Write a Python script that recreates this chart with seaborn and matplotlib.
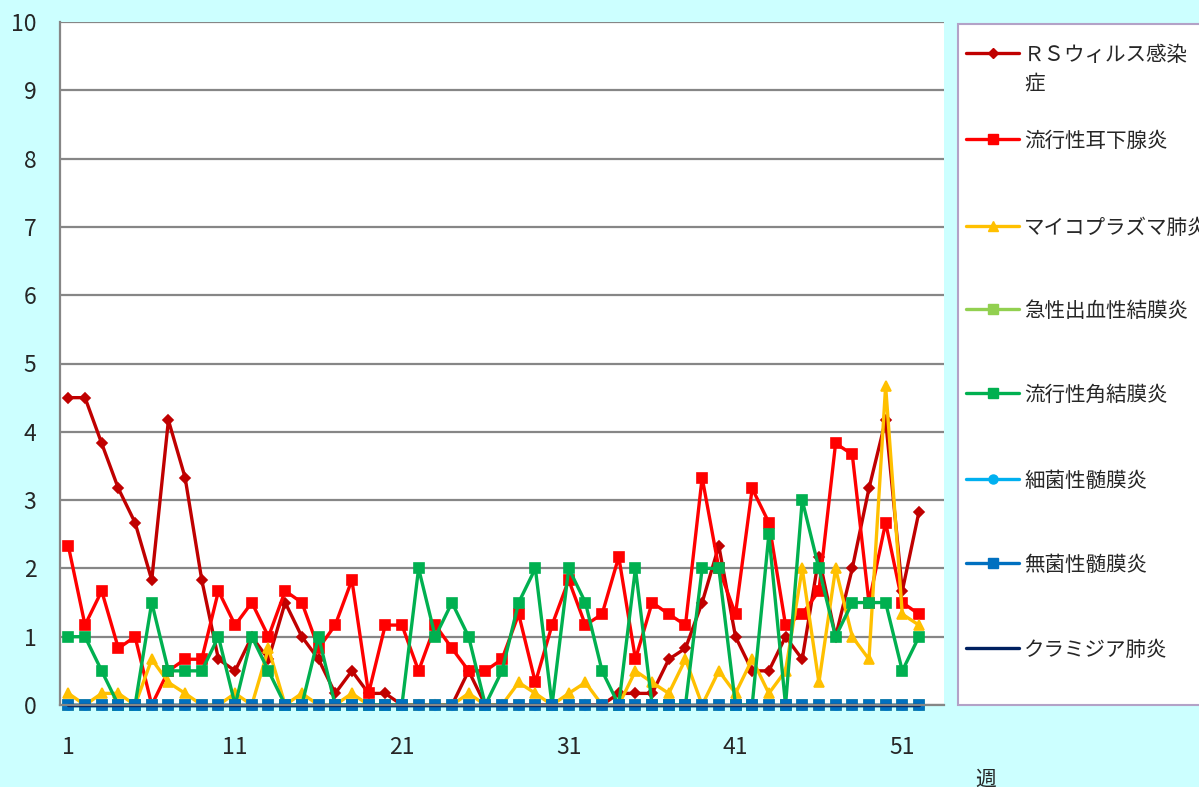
# 2019年 週別定点当たり報告数（RSウィルス感染症ほか）
import numpy as np
import pandas as pd
import seaborn as sns
import matplotlib.pyplot as plt
from matplotlib.lines import Line2D
from matplotlib.patches import Rectangle

sns.set_style('white')
plt.rcParams['font.family'] = ['Noto Sans CJK JP', 'DejaVu Sans']

# 週 1〜52
weeks = np.arange(1, 53)
xtick_labels = [1, 11, 21, 31, 41, 51]

rs_virus = [4.5, 4.5, 3.83, 3.17, 2.67, 1.83, 4.17, 3.33, 1.83, 0.67,
            0.5, 1.0, 0.67, 1.5, 1.0, 0.67, 0.17, 0.5, 0.17, 0.17,
            0, 0, 0, 0, 0.5, 0, 0, 0, 0, 0,
            0, 0, 0, 0.17, 0.17, 0.17, 0.67, 0.83, 1.5, 2.33,
            1.0, 0.5, 0.5, 1.0, 0.67, 2.17, 1.0, 2.0, 3.17, 4.17,
            1.67, 2.83]
mumps = [2.33, 1.17, 1.67, 0.83, 1.0, 0, 0.5, 0.67, 0.67, 1.67,
         1.17, 1.5, 1.0, 1.67, 1.5, 0.83, 1.17, 1.83, 0.17, 1.17,
         1.17, 0.5, 1.17, 0.83, 0.5, 0.5, 0.67, 1.33, 0.33, 1.17,
         1.83, 1.17, 1.33, 2.17, 0.67, 1.5, 1.33, 1.17, 3.33, 2.0,
         1.33, 3.17, 2.67, 1.17, 1.33, 1.67, 3.83, 3.67, 1.5, 2.67,
         1.5, 1.33]
mycoplasma = [0.17, 0, 0.17, 0.17, 0, 0.67, 0.33, 0.17, 0, 0,
              0.17, 0, 0.83, 0, 0.17, 0, 0, 0.17, 0, 0,
              0, 0, 0, 0, 0.17, 0, 0, 0.33, 0.17, 0,
              0.17, 0.33, 0, 0, 0.5, 0.33, 0.17, 0.67, 0, 0.5,
              0.17, 0.67, 0.17, 0.5, 2.0, 0.33, 2.0, 1.0, 0.67, 4.67,
              1.33, 1.17]
hemorrhagic_conj = [0] * 52
ekc = [1.0, 1.0, 0.5, 0, 0, 1.5, 0.5, 0.5, 0.5, 1.0,
       0, 1.0, 0.5, 0, 0, 1.0, 0, 0, 0, 0,
       0, 2.0, 1.0, 1.5, 1.0, 0, 0.5, 1.5, 2.0, 0,
       2.0, 1.5, 0.5, 0, 2.0, 0, 0, 0, 2.0, 2.0,
       0, 0, 2.5, 0, 3.0, 2.0, 1.0, 1.5, 1.5, 1.5,
       0.5, 1.0]
bacterial_men = [0] * 52
aseptic_men = [0] * 52
chlamydia = [0] * 52

labels = ['ＲＳウィルス感染\n症', '流行性耳下腺炎', 'マイコプラズマ肺炎', '急性出血性結膜炎',
          '流行性角結膜炎', '細菌性髄膜炎', '無菌性髄膜炎', 'クラミジア肺炎']
series = [rs_virus, mumps, mycoplasma, hemorrhagic_conj, ekc,
          bacterial_men, aseptic_men, chlamydia]
colors = ['#C00000', '#FF0000', '#FFC000', '#92D050', '#00B050',
          '#00B0F0', '#0070C0', '#002060']
markers = ['D', 's', '^', 's', 's', 'o', 's', '_']
msizes = [5.5, 6.5, 7, 6.5, 6.5, 6.5, 6.5, 7]

W, H = 1199, 787
fig = plt.figure(figsize=(W / 100, H / 100), dpi=100, facecolor='#CCFFFF')
ax = fig.add_axes([60 / W, 82 / H, 884 / W, 683 / H])
ax.set_facecolor('white')

for vals, c, m, ms in zip(series, colors, markers, msizes):
    sns.lineplot(x=weeks, y=vals, color=c, marker=m, markersize=ms,
                 markeredgecolor=c, markeredgewidth=1.2, linewidth=2.4,
                 ax=ax, legend=False)
for ln in ax.lines:
    ln.set_clip_on(False)

ax.set_xlim(0.5, 53.5)
ax.set_ylim(0, 10)
ax.set_xticks(xtick_labels)
ax.set_yticks(range(0, 11))
ax.set_xlabel('')
ax.set_ylabel('')
ax.tick_params(axis='x', length=0, pad=22, labelsize=16.5)
ax.tick_params(axis='y', length=0, pad=17, labelsize=16.5)
ax.yaxis.grid(True, color='#868686', linewidth=1.6)
ax.xaxis.grid(False)
ax.set_axisbelow(True)
for side in ['top', 'right']:
    ax.spines[side].set_visible(False)
for side in ['left', 'bottom']:
    ax.spines[side].set_color('#868686')
    ax.spines[side].set_linewidth(1.6)


def px(x, y):
    return x / W, 1 - y / H


# 凡例（右側の枠）
x0, y0 = px(958, 705)
fig.add_artist(Rectangle((x0, y0), 1.02 - x0, (705 - 24) / H, transform=fig.transFigure,
                         facecolor='white', edgecolor='#B3A2C7', linewidth=1.5))
entry_y = [53, 139, 226, 309, 393, 479, 563, 648]
for lab, c, m, ms, yy in zip(labels, colors, markers, msizes, entry_y):
    xa, ya = px(966, yy)
    xb, _ = px(1019, yy)
    fig.add_artist(Line2D([xa, xb], [ya, ya], color=c, linewidth=2.4,
                          transform=fig.transFigure))
    fig.add_artist(Line2D([(xa + xb) / 2], [ya], color=c, marker=m, markersize=ms,
                          markeredgecolor=c, transform=fig.transFigure))
    tx, ty = px(1024, yy - 9)
    fig.text(tx, ty, lab, fontsize=14.8, va='top', ha='left', linespacing=1.4)

wx, wy = px(986, 780)
fig.text(wx, wy, '週', fontsize=15, ha='center', va='center')

fig.savefig('out.png', dpi=100, facecolor=fig.get_facecolor())
